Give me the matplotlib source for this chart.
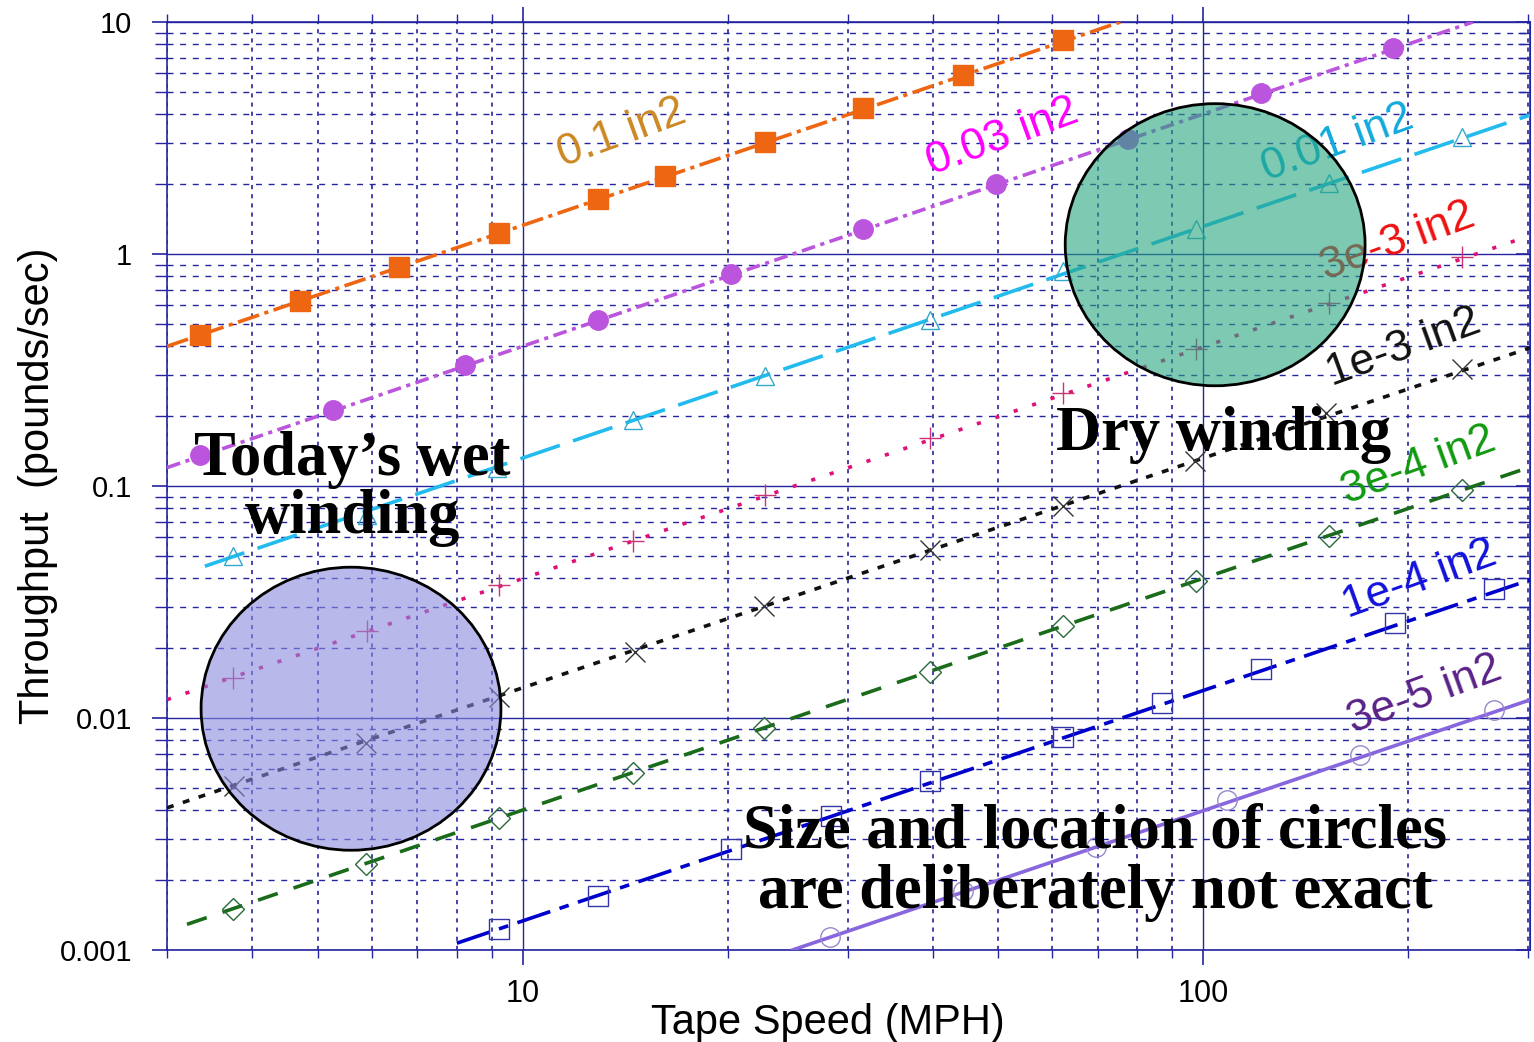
import numpy as np
import matplotlib
matplotlib.use("Agg")
import matplotlib.pyplot as plt
from matplotlib.patches import Ellipse
from matplotlib.ticker import NullFormatter, FuncFormatter

# Cross-section areas of each curve
areas = ["0.1 in2", "0.03 in2", "0.01 in2", "3e-3 in2",
         "1e-3 in2", "3e-4 in2", "1e-4 in2", "3e-5 in2"]

# Marker points: tape speed (MPH), throughput (pounds/sec)
speed_a1 = [3.35, 4.70, 6.57, 9.22, 12.9, 16.2, 22.7, 31.6, 44.4, 62.2]
thru_a1 = [0.448, 0.627, 0.879, 1.23, 1.73, 2.17, 3.04, 4.26, 5.92, 8.36]

speed_a2 = [3.35, 5.26, 8.22, 12.9, 20.2, 31.6, 49.6, 77.6, 121.7, 190]
thru_a2 = [0.136, 0.213, 0.333, 0.520, 0.821, 1.28, 2.00, 3.13, 4.94, 7.72]

speed_a3 = [3.75, 5.90, 9.16, 14.5, 22.7, 39.7, 62.2, 97.7, 153, 240]
thru_a3 = [0.0499, 0.075, 0.120, 0.192, 0.298, 0.520, 0.845, 1.28, 2.02, 3.19]

speed_a4 = [3.75, 5.90, 9.22, 14.5, 22.7, 39.7, 62.2, 97.7, 153, 240]
thru_a4 = [0.01485, 0.0237, 0.0374, 0.0579, 0.0914, 0.161, 0.252, 0.390, 0.615, 0.970]

speed_a5 = [3.76, 5.88, 9.22, 14.6, 22.6, 39.7, 62.2, 97.3, 151.5, 240]
thru_a5 = [0.00509, 0.0078, 0.01232, 0.01924, 0.0304, 0.0530, 0.0820, 0.128, 0.206, 0.319]

speed_a6 = [3.75, 5.88, 9.22, 14.5, 22.6, 39.7, 62.2, 97.7, 153, 240]
thru_a6 = [0.001503, 0.00235, 0.00371, 0.0058, 0.00906, 0.01578, 0.0249, 0.039, 0.0608, 0.0962]

speed_a7 = [9.22, 12.9, 20.2, 28.4, 39.7, 62.2, 87.0, 121.7, 191, 267]
thru_a7 = [0.001233, 0.00171, 0.00272, 0.00378, 0.00535, 0.00828, 0.01161, 0.01626, 0.02566, 0.036]

speed_a8 = [28.3, 44.4, 69.6, 108.5, 170, 267]
thru_a8 = [0.001137, 0.001795, 0.00278, 0.00443, 0.00693, 0.01082]

# End points of each straight trend line
line_speed = [[3.0, 75.5], [3.0, 249], [3.41, 302], [3.0, 302],
              [3.0, 302], [3.21, 302], [8.0, 302], [24.9, 302]]
line_thru = [[0.40, 10.0], [0.12, 10.0], [0.0451, 3.97], [0.0120, 1.20],
             [0.0041, 0.394], [0.00129, 0.1207], [0.00107, 0.0394], [0.001, 0.01197]]

speeds = [speed_a1, speed_a2, speed_a3, speed_a4, speed_a5, speed_a6, speed_a7, speed_a8]
thrus = [thru_a1, thru_a2, thru_a3, thru_a4, thru_a5, thru_a6, thru_a7, thru_a8]

# styles: line color, line style, marker, marker size, marker face, marker edge
line_colors = ['#ee6611', '#bb55dd', '#22bbee', '#dd1177',
               '#111111', '#1a6b1a', '#0000cc', '#8866dd']
line_styles = [(0, (16, 4, 3, 4)), (0, (10, 4, 3, 4)), (0, (30, 10)), (0, (3, 11)),
               (0, (5, 7)), (0, (15, 12)), (0, (25, 7, 7, 7)), '-']
markers = ['s', 'o', '^', '+', 'x', 'D', 's', 'o']
marker_sizes = [15, 14, 13, 16, 15, 11, 15, 14]
marker_faces = ['#ee6611', '#bb55dd', 'none', 'none', 'none', 'none', 'none', 'none']
marker_edges = ['#ee6611', '#bb55dd', '#33aacc', '#cc3377',
                '#333333', '#2a6a3a', '#3333aa', '#9988cc']

label_colors = ['#cc8822', '#ff00ff', '#11aadd', '#ee1111',
                '#111111', '#119911', '#1111dd', '#5a2288']
label_pos = [(0.334, 0.880), (0.613, 0.876), (0.859, 0.870), (0.903, 0.763),
             (0.907, 0.649), (0.918, 0.522), (0.919, 0.399), (0.923, 0.275)]

plt.rcParams['lines.scale_dashes'] = False
plt.rcParams['font.family'] = ['Liberation Sans', 'DejaVu Sans']

navy = '#2424a0'

fig = plt.figure(figsize=(15.34, 10.42), dpi=100)
ax = fig.add_axes([167 / 1534, 92 / 1042, 1363 / 1534, 928 / 1042])
ax.set_xscale('log')
ax.set_yscale('log')
ax.set_xlim(3, 302)
ax.set_ylim(0.001, 10)

# grid
ax.set_axisbelow(True)
ax.grid(which='major', color=navy, lw=1.0, ls='-')
ax.xaxis.grid(which='minor', color=navy, lw=1.2, ls=(0, (3, 3.6)))
ax.yaxis.grid(which='minor', color=navy, lw=1.0, ls=(0, (4.3, 4.8)))

# curves
for i in range(len(areas)):
    ax.plot(line_speed[i], line_thru[i], color=line_colors[i], ls=line_styles[i],
            lw=2.6, zorder=3)
    ax.plot(speeds[i], thrus[i], ls='none', marker=markers[i], ms=marker_sizes[i],
            mfc=marker_faces[i], mec=marker_edges[i], mew=1.0, zorder=4)
    ax.text(label_pos[i][0], label_pos[i][1], areas[i], transform=ax.transAxes,
            color=label_colors[i], fontsize=32, rotation=20, rotation_mode='anchor',
            ha='center', va='center', zorder=4)

# the two rough circles
ax.add_patch(Ellipse((0.769, 0.760), 0.220, 0.304, transform=ax.transAxes,
                     facecolor='#26a580', alpha=0.6, edgecolor='none', zorder=6))
ax.add_patch(Ellipse((0.769, 0.760), 0.220, 0.304, transform=ax.transAxes,
                     facecolor='none', edgecolor='black', lw=2, zorder=6))
ax.add_patch(Ellipse((0.135, 0.260), 0.220, 0.305, transform=ax.transAxes,
                     facecolor='#8989df', alpha=0.6, edgecolor='none', zorder=6))
ax.add_patch(Ellipse((0.135, 0.260), 0.220, 0.305, transform=ax.transAxes,
                     facecolor='none', edgecolor='black', lw=2, zorder=6))

# bold notes
serif = dict(family='Liberation Serif', fontweight='bold', fontsize=45,
             ha='center', va='center', transform=ax.transAxes, zorder=10)
ax.text(0.136, 0.497, "Today\u2019s wet\nwinding", linespacing=1.0, **serif)
ax.text(0.775, 0.555, "Dry winding", **serif)
ax.text(0.681, 0.094, "Size and location of circles\nare deliberately not exact",
        linespacing=1.06, **serif)

# axes, ticks, labels
for s in ax.spines.values():
    s.set_color(navy)
    s.set_linewidth(1.2)
fmt = FuncFormatter(lambda v, _: f"{v:g}")
ax.xaxis.set_major_formatter(fmt)
ax.yaxis.set_major_formatter(fmt)
ax.xaxis.set_minor_formatter(NullFormatter())
ax.yaxis.set_minor_formatter(NullFormatter())
ax.tick_params(axis='x', which='both', top=True, direction='out', color=navy)
ax.tick_params(axis='x', which='major', length=11, width=1.2, labelsize=22, pad=10)
ax.tick_params(axis='x', which='minor', length=6, width=1.0)
ax.tick_params(axis='y', which='both', direction='out', color=navy)
ax.tick_params(axis='y', which='major', length=11, width=1.2, labelsize=21, pad=14)
ax.tick_params(axis='y', which='minor', length=9, width=1.0)

sec = ax.secondary_yaxis('right')
sec.tick_params(which='both', direction='in', color=navy, labelright=False)
sec.tick_params(which='major', length=10, width=1.2)
sec.tick_params(which='minor', length=9, width=1.0)
sec.spines['right'].set_color(navy)

ax.set_xlabel("Tape Speed (MPH)", fontsize=30)
ax.set_ylabel("Throughput  (pounds/sec)", fontsize=30)
ax.xaxis.set_label_coords(0.485, -0.057)
ax.yaxis.set_label_coords(-0.080, 0.5)

fig.savefig("out.png", dpi=100)
